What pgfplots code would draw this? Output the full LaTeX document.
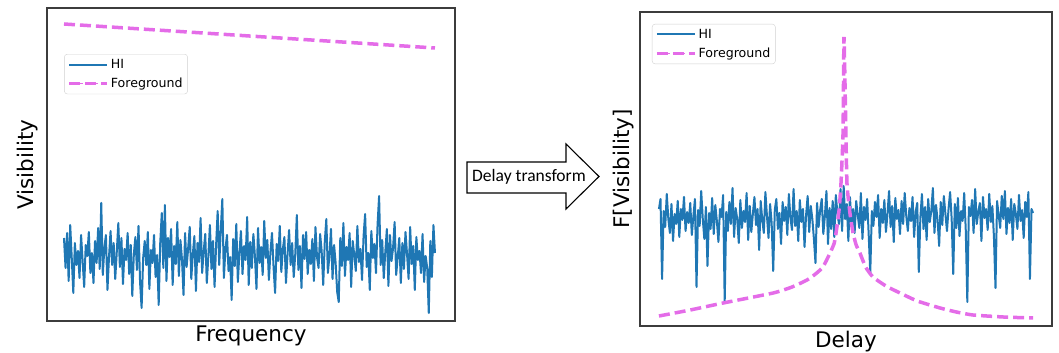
\documentclass[border=0pt]{standalone}
\usepackage{pgfplots}
\usepackage{pgfplotstable}
\pgfplotsset{compat=1.18}
\usepackage{fontspec}
\setmainfont{DejaVu Sans}
\newfontfamily\calibri{Carlito}
\definecolor{hiblue}{RGB}{31,119,180}
\definecolor{fgviolet}{RGB}{228,108,232}
\definecolor{framegray}{RGB}{60,60,60}

\pgfplotstableread[header=false,row sep=\\]{
115\\85\\120\\72\\128\\95\\60\\110\\88\\102\\75\\118\\92\\66\\108\\97\\121\\80\\100\\70\\
112\\90\\125\\84\\150\\78\\105\\118\\63\\96\\122\\88\\110\\74\\101\\130\\86\\115\\69\\104\\
93\\120\\79\\108\\57\\99\\116\\83\\127\\71\\45\\95\\112\\88\\121\\64\\103\\90\\118\\76\\
98\\48\\110\\140\\85\\148\\72\\115\\96\\124\\68\\107\\89\\131\\77\\113\\94\\58\\120\\86\\
105\\126\\74\\99\\117\\62\\110\\91\\135\\80\\102\\119\\70\\97\\128\\84\\112\\66\\108\\142\\
88\\123\\154\\75\\104\\118\\82\\96\\53\\114\\87\\129\\71\\100\\122\\79\\107\\93\\136\\68\\
111\\85\\119\\97\\64\\125\\90\\106\\78\\132\\95\\113\\73\\101\\120\\86\\60\\109\\92\\127\\
81\\104\\116\\70\\98\\123\\88\\110\\76\\99\\138\\83\\107\\65\\118\\94\\121\\79\\103\\89\\
114\\72\\126\\96\\85\\119\\102\\68\\111\\134\\80\\97\\124\\74\\108\\90\\61\\51\\115\\87\\
130\\77\\106\\93\\120\\66\\112\\98\\82\\127\\91\\104\\73\\117\\139\\86\\100\\63\\122\\95\\
109\\80\\128\\157\\88\\113\\75\\101\\124\\67\\118\\92\\105\\131\\78\\96\\115\\70\\110\\84\\
121\\99\\74\\126\\89\\107\\63\\116\\93\\102\\80\\119\\71\\97\\85\\40\\112\\76\\128\\100\\
}\hileft

\pgfplotstableread[header=false,row sep=\\]{
144\\154\\74\\142\\126\\159\\134\\120\\149\\112\\139\\129\\152\\116\\144\\133\\156\\122\\141\\130\\
150\\118\\137\\154\\66\\143\\127\\162\\134\\114\\146\\87\\140\\124\\155\\119\\148\\132\\111\\144\\
136\\158\\51\\141\\122\\151\\129\\165\\116\\145\\134\\110\\153\\125\\142\\131\\160\\113\\147\\121\\
139\\156\\128\\144\\103\\152\\133\\120\\161\\137\\115\\149\\130\\82\\143\\154\\124\\140\\109\\151\\
132\\146\\118\\159\\135\\123\\164\\127\\142\\112\\153\\131\\144\\106\\138\\157\\121\\147\\134\\114\\
90\\150\\126\\143\\154\\119\\137\\162\\109\\145\\124\\152\\116\\158\\140\\129\\164\\122\\167\\134\\
149\\112\\156\\131\\144\\120\\152\\138\\125\\160\\114\\146\\133\\154\\118\\80\\142\\127\\151\\136\\
158\\115\\144\\130\\153\\121\\139\\162\\126\\147\\111\\155\\134\\143\\119\\152\\129\\160\\137\\122\\
145\\132\\156\\116\\141\\150\\81\\135\\159\\124\\146\\113\\154\\131\\142\\165\\120\\148\\133\\107\\
151\\128\\157\\139\\122\\144\\161\\134\\79\\149\\125\\155\\117\\142\\132\\160\\123\\51\\146\\137\\
153\\120\\164\\129\\141\\150\\112\\156\\135\\144\\123\\159\\131\\147\\116\\65\\152\\138\\125\\157\\
134\\162\\119\\145\\130\\154\\113\\149\\139\\124\\158\\132\\143\\115\\151\\136\\161\\74\\144\\140\\
}\hiright

\pgfplotsset{
  myaxis/.style={
    scale only axis,
    anchor=south west,
    xtick=\empty, ytick=\empty,
    axis line style={framegray, line width=1.6pt},
    clip=true,
    legend cell align=left,
    legend style={anchor=north west, draw=black!18, fill=white, rounded corners=3pt,
      font=\fontsize{12.6}{15}\selectfont, inner xsep=3pt, inner ysep=3pt,
      row sep=4pt},
  },
}

\begin{document}
\begin{tikzpicture}[x=1pt,y=1pt]
\useasboundingbox (0,0) rectangle (1059,353);

% left panel
\begin{axis}[myaxis,
  at={(47pt,32pt)}, width=408pt, height=313pt,
  xmin=-10.95, xmax=251.9, ymin=32, ymax=345,
  xlabel={Frequency}, ylabel={Visibility},
  every axis x label/.style={at={(axis description cs:0.5,-0.067)}, anchor=base, font=\fontsize{21.5}{24}\selectfont},
  every axis y label/.style={at={(axis description cs:-0.047,0.5)}, rotate=90, anchor=center, font=\fontsize{21.5}{24}\selectfont},
  legend style={at={(0.042,0.853)}},
]
\addplot[hiblue, line width=2pt, line join=round,
  legend image code/.code={\path (-1pt,0pt) -- (37pt,0pt); \draw[hiblue, line width=1.3pt] (0pt,0pt) -- (28pt,0pt);}]
  table[x expr=\coordindex, y index=0] {\hileft};
\addlegendentry{HI}
\addplot[fgviolet, line width=3.5pt, dash pattern=on 11pt off 5pt,
  legend image code/.code={\path (-1pt,0pt) -- (37pt,0pt); \draw[fgviolet, line width=1.6pt, dash pattern=on 5pt off 2.5pt] (0pt,0pt) -- (28pt,0pt);}]
  coordinates {(0,329) (239,305)};
\addlegendentry{Foreground}
\end{axis}

% right panel
\begin{axis}[myaxis,
  at={(640pt,27pt)}, width=412pt, height=314pt,
  xmin=-12.1, xmax=251.1, ymin=27, ymax=341,
  xlabel={Delay}, ylabel={F[Visibility]},
  every axis x label/.style={at={(axis description cs:0.5,-0.069)}, anchor=base, font=\fontsize{21.5}{24}\selectfont},
  every axis y label/.style={at={(axis description cs:-0.039,0.5)}, rotate=90, anchor=center, font=\fontsize{21.5}{24}\selectfont},
  legend style={at={(0.029,0.962)}},
]
\addplot[hiblue, line width=2pt, line join=round,
  legend image code/.code={\path (-1pt,0pt) -- (37pt,0pt); \draw[hiblue, line width=1.3pt] (0pt,0pt) -- (28pt,0pt);}]
  table[x expr=\coordindex, y index=0] {\hiright};
\addlegendentry{HI}
\addplot[fgviolet, line width=3.5pt, dash pattern=on 11pt off 5pt, smooth, tension=0.3,
  legend image code/.code={\path (-1pt,0pt) -- (37pt,0pt); \draw[fgviolet, line width=1.6pt, dash pattern=on 5pt off 2.5pt] (0pt,0pt) -- (28pt,0pt);}]
  coordinates {
 (0,37) (20,43) (41,50) (73,60) (85,66) (94.6,73) (100,79) (104.8,86) (109.3,100)
 (112,110) (113.7,126) (115.2,145) (116.3,170) (117.6,220) (118.2,316)
 (119.2,240) (120.1,170) (122,140) (124,120) (126,108) (128.4,100) (132,86)
 (136.7,76) (145,67) (154,60) (165,52) (179.6,45) (190,41) (200.6,38) (220,36) (239,35)};
\addlegendentry{Foreground}
\end{axis}

% delay transform arrow
\draw[black, line width=1.1pt, fill=white]
  (467,191) -- (566,191) -- (566,209) -- (599,176.5) -- (566,144) -- (566,160) -- (467,160) -- cycle;
\node[font=\calibri\fontsize{17.5}{20}\selectfont, anchor=center] at (529,176) {Delay transform};
\end{tikzpicture}
\end{document}
